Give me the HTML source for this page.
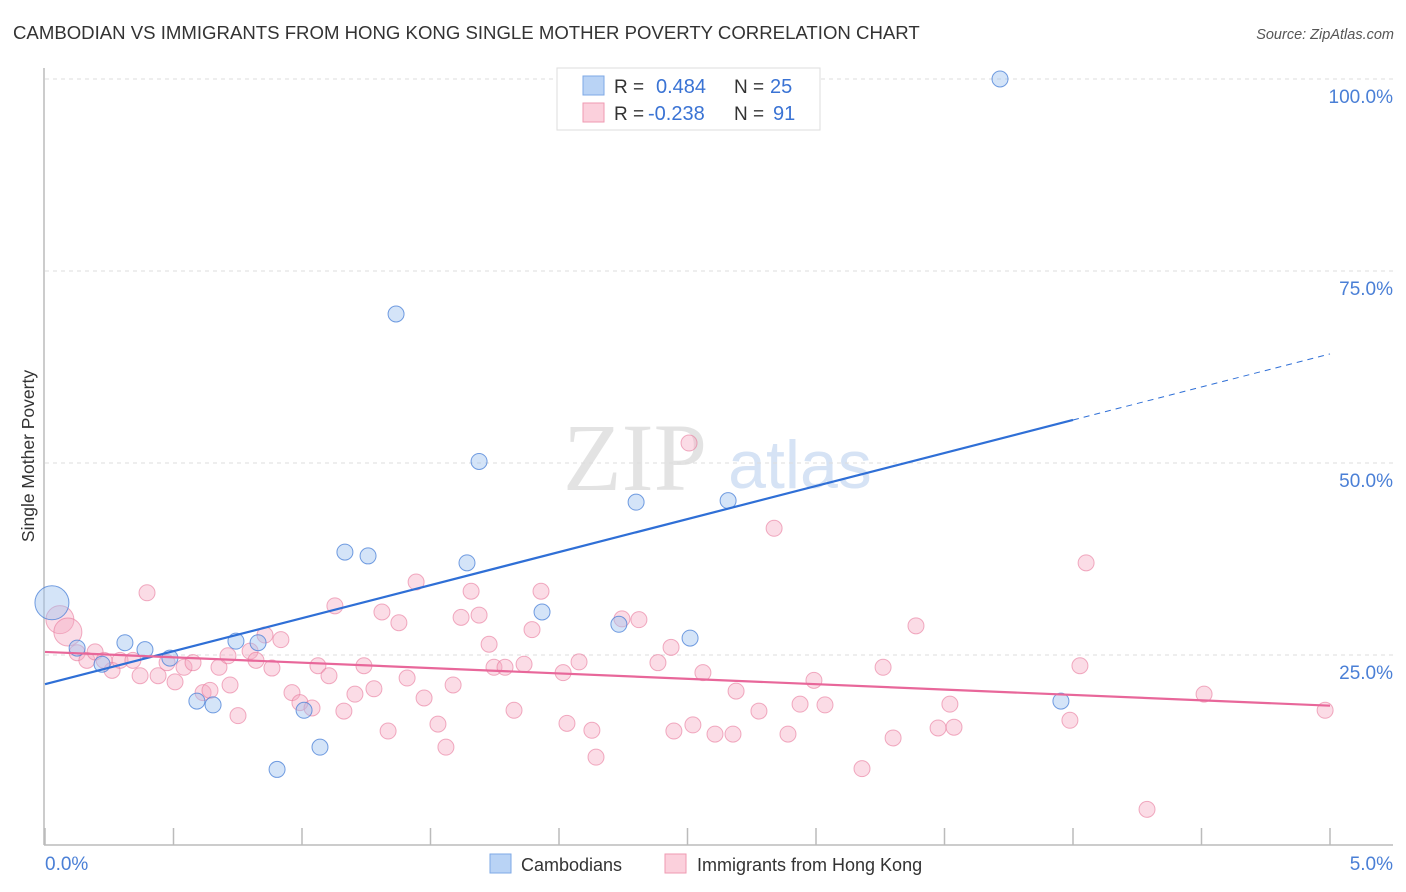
<!DOCTYPE html>
<html><head><meta charset="utf-8">
<style>
body{margin:0;background:#fff;font-family:"Liberation Sans",sans-serif;}
svg{display:block}
</style></head>
<body>
<svg id="chart" width="1406" height="892" xmlns="http://www.w3.org/2000/svg">
<text x="13" y="39" font-size="18.6" fill="#333" font-family="Liberation Sans, sans-serif">CAMBODIAN VS IMMIGRANTS FROM HONG KONG SINGLE MOTHER POVERTY CORRELATION CHART</text>
<text x="1394" y="39" font-size="14.5" fill="#555" text-anchor="end" font-style="italic">Source: ZipAtlas.com</text>
<text transform="translate(34,456) rotate(-90)" font-size="17.5" fill="#333" text-anchor="middle">Single Mother Poverty</text>
<g>
<text x="635" y="490" font-size="96" fill="#e3e3e3" text-anchor="middle" font-family="Liberation Serif, serif">ZIP</text>
<text x="800" y="488" font-size="68" fill="#d6e3f5" text-anchor="middle">atlas</text>
</g>
<g id="grid"></g>
<g id="axes"></g>
<g id="pts"></g>
<g id="lines"></g>
<g>
<rect x="557" y="68" width="263" height="62" fill="#fff" stroke="#ddd"/>
<rect x="583" y="76" width="21" height="19" fill="#b9d3f5" stroke="#7ea8e6"/>
<text x="614" y="93" font-size="19" fill="#333">R =</text>
<text x="656" y="93" font-size="20" fill="#3a73d4">0.484</text>
<text x="734" y="93" font-size="19" fill="#333">N =</text>
<text x="770" y="93" font-size="20" fill="#3a73d4">25</text>
<rect x="583" y="103" width="21" height="19" fill="#fbd0dc" stroke="#ef9ab2"/>
<text x="614" y="120" font-size="19" fill="#333">R =</text>
<text x="648" y="120" font-size="20" fill="#3a73d4">-0.238</text>
<text x="734" y="120" font-size="19" fill="#333">N =</text>
<text x="773" y="120" font-size="20" fill="#3a73d4">91</text>
</g>
<g>
<rect x="490" y="854" width="21" height="19" fill="#b9d3f5" stroke="#7ea8e6"/>
<text x="521" y="871" font-size="18" fill="#333">Cambodians</text>
<rect x="665" y="854" width="21" height="19" fill="#fbd0dc" stroke="#ef9ab2"/>
<text x="697" y="871" font-size="18" fill="#333">Immigrants from Hong Kong</text>
</g>
</svg>
<script>
const yTicks=[25,50,75,100];
const yTickLabels=["25.0%","50.0%","75.0%","100.0%"];
const xTicks=[0,0.5,1,1.5,2,2.5,3,3.5,4,4.5,5];
const blueX=[0.027,0.125,0.222,0.311,0.389,0.486,0.591,0.654,0.743,0.829,1.008,0.903,1.070,1.167,1.257,1.366,1.642,1.689,1.934,2.233,2.300,2.510,2.658,3.716,3.953];
const blueY=[31.8,25.9,23.8,26.6,25.7,24.6,19.0,18.5,26.8,26.6,17.8,10.1,13.0,38.4,37.9,69.4,37.0,50.2,30.6,29.0,44.9,27.2,45.1,100,19.0];
const blueR=[17,8,8,8,8,8,8,8,8,8,8,8,8,8,8,8,8,8,8,8,8,8,8,8,8];
const pinkX=[0.058,0.089,0.125,0.163,0.195,0.261,0.292,0.342,0.370,0.397,0.440,0.475,0.506,0.541,0.576,0.615,0.642,0.677,0.712,0.751,0.798,0.821,0.856,0.883,0.918,0.961,0.992,1.039,1.062,1.105,1.128,1.163,1.206,1.241,1.280,1.311,1.335,1.377,1.409,1.444,1.475,1.529,1.560,1.588,1.619,1.658,1.689,1.728,1.747,1.790,1.825,1.864,1.895,1.930,2.016,2.031,2.078,2.128,2.144,2.245,2.311,2.385,2.436,2.447,2.506,2.521,2.560,2.607,2.677,2.689,2.778,2.837,2.891,2.938,2.992,3.035,3.179,3.261,3.300,3.389,3.475,3.521,3.537,3.988,4.027,4.051,4.288,4.510,4.981,0.230,0.720];
const pinkY=[29.6,28.0,25.3,24.3,25.4,23.0,24.3,24.3,22.3,33.1,22.3,24.0,21.5,23.4,24.0,20.1,20.4,23.4,24.9,17.1,25.5,24.3,27.6,23.3,27.0,20.1,18.8,18.1,23.6,22.3,31.4,17.7,19.9,23.6,20.6,30.6,15.1,29.2,22.0,34.5,19.4,16.0,13.0,21.1,29.9,33.3,30.2,26.4,23.4,23.4,17.8,23.8,28.3,33.3,22.7,16.1,24.1,15.2,11.7,29.7,29.6,24.0,26.0,15.1,52.6,15.9,22.7,14.7,14.7,20.3,17.7,41.5,14.7,18.6,21.7,18.5,10.2,23.4,14.2,28.8,15.5,18.6,15.6,16.5,23.6,37.0,4.9,19.9,17.8,24.3,21.1];
const pinkR=[14,14,8,8,8,8,8,8,8,8,8,8,8,8,8,8,8,8,8,8,8,8,8,8,8,8,8,8,8,8,8,8,8,8,8,8,8,8,8,8,8,8,8,8,8,8,8,8,8,8,8,8,8,8,8,8,8,8,8,8,8,8,8,8,8,8,8,8,8,8,8,8,8,8,8,8,8,8,8,8,8,8,8,8,8,8,8,8,8,8,8];
const blueLineX=[0,4.0,5];
const blueLineY=[21.2,55.6,64.2];
const pinkLineX=[0,5];
const pinkLineY=[25.4,18.4];

const NS="http://www.w3.org/2000/svg";
const X=v=>45+v/5*1285;
const Y=v=>847-v*7.68;
function mk(t,a,p){const e=document.createElementNS(NS,t);for(const k in a)e.setAttribute(k,a[k]);p.appendChild(e);return e;}
const grid=document.getElementById('grid'),axes=document.getElementById('axes'),pts=document.getElementById('pts'),lines=document.getElementById('lines');
yTicks.forEach((t,i)=>{
 const l=mk('line',{x1:45,x2:1393,y1:Y(t),y2:Y(t),stroke:'#ddd','stroke-dasharray':'4,4'},grid);
 
 
 const tx=mk('text',{x:1393,y:Y(t)+24,'font-size':19,fill:'#4a7fd6','text-anchor':'end'},axes);
 tx.textContent=yTickLabels[i];
 
 
});
const ax=mk('line',{x1:44,x2:44,y1:68,y2:845,stroke:'#bbb','stroke-width':1.5},axes);


const bx=mk('line',{x1:44,x2:1393,y1:845,y2:845,stroke:'#bbb','stroke-width':1.5},axes);


xTicks.forEach(t=>{
 const l=mk('line',{x1:X(t),x2:X(t),y1:828,y2:845,stroke:'#bbb','stroke-width':1.5},axes);
 
 
});
[[0,"0.0%","start",45],[5,"5.0%","end",1393]].forEach(a=>{
 const tx=mk('text',{x:a[3],y:870,'font-size':19,fill:'#4a7fd6','text-anchor':a[2]},axes);
 tx.textContent=a[1];
 
 
});
pinkX.forEach((v,i)=>{
 const c=mk('circle',{cx:X(v),cy:Y(pinkY[i]),r:pinkR[i],fill:'rgba(246,168,192,0.4)',stroke:'rgba(232,120,155,0.6)','stroke-width':1},pts);
 
 
});
blueX.forEach((v,i)=>{
 const c=mk('circle',{cx:X(v),cy:Y(blueY[i]),r:blueR[i],fill:'rgba(160,195,240,0.45)',stroke:'rgba(70,125,215,0.75)','stroke-width':1},pts);
 
 
});
const b1=mk('line',{x1:X(blueLineX[0]),y1:Y(blueLineY[0]),x2:X(blueLineX[1]),y2:Y(blueLineY[1]),stroke:'#2f6fd6','stroke-width':2.2},lines);


const b2=mk('line',{x1:X(blueLineX[1]),y1:Y(blueLineY[1]),x2:X(blueLineX[2]),y2:Y(blueLineY[2]),stroke:'#2f6fd6','stroke-width':1,'stroke-dasharray':'6,5'},lines);


const p1=mk('line',{x1:X(pinkLineX[0]),y1:Y(pinkLineY[0]),x2:X(pinkLineX[1]),y2:Y(pinkLineY[1]),stroke:'#e8679a','stroke-width':2.2},lines);


</script>
</body></html>
